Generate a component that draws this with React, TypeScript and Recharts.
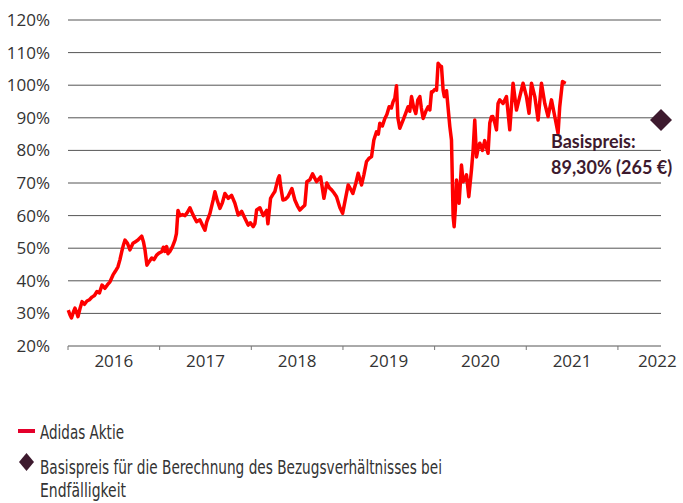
import { CartesianGrid, ComposedChart, Line, Scatter, XAxis, YAxis } from "recharts";

// Zeitachse in Dezimaljahren, Kurs in % des Basispreises
const zeit = [
  2016.003, 2016.022, 2016.038, 2016.06, 2016.076, 2016.098, 2016.109, 2016.131, 2016.153, 2016.18,
  2016.207, 2016.234, 2016.262, 2016.289, 2016.316, 2016.343, 2016.371, 2016.403, 2016.431, 2016.458,
  2016.491, 2016.518, 2016.545, 2016.567, 2016.586, 2016.605, 2016.622, 2016.649, 2016.676, 2016.709,
  2016.736, 2016.763, 2016.804, 2016.823, 2016.84, 2016.861, 2016.883, 2016.913, 2016.938, 2016.967,
  2016.992, 2017.022, 2017.041, 2017.058, 2017.076, 2017.091, 2017.112, 2017.14, 2017.167, 2017.183,
  2017.2, 2017.221, 2017.249, 2017.276, 2017.303, 2017.33, 2017.363, 2017.403, 2017.439, 2017.475,
  2017.494, 2017.513, 2017.549, 2017.584, 2017.603, 2017.63, 2017.658, 2017.685, 2017.712, 2017.748,
  2017.785, 2017.821, 2017.857, 2017.894, 2017.93, 2017.966, 2017.99, 2018.021, 2018.039, 2018.058,
  2018.094, 2018.13, 2018.167, 2018.181, 2018.21, 2018.236, 2018.257, 2018.293, 2018.306, 2018.323,
  2018.345, 2018.372, 2018.399, 2018.443, 2018.475, 2018.503, 2018.53, 2018.557, 2018.584, 2018.606,
  2018.639, 2018.668, 2018.712, 2018.756, 2018.792, 2018.824, 2018.852, 2018.876, 2018.901, 2018.93,
  2018.966, 2018.996, 2019.026, 2019.057, 2019.086, 2019.108, 2019.141, 2019.166, 2019.203, 2019.228,
  2019.257, 2019.282, 2019.312, 2019.337, 2019.366, 2019.386, 2019.402, 2019.43, 2019.457, 2019.479,
  2019.504, 2019.528, 2019.547, 2019.566, 2019.584, 2019.599, 2019.62, 2019.656, 2019.686, 2019.711,
  2019.729, 2019.748, 2019.773, 2019.795, 2019.817, 2019.839, 2019.855, 2019.875, 2019.904, 2019.929,
  2019.948, 2019.966, 2019.98, 2020.002, 2020.021, 2020.038, 2020.057, 2020.075, 2020.093, 2020.106,
  2020.13, 2020.166, 2020.184, 2020.202, 2020.213, 2020.226, 2020.239, 2020.253, 2020.267, 2020.293,
  2020.311, 2020.329, 2020.348, 2020.373, 2020.402, 2020.42, 2020.438, 2020.457, 2020.477, 2020.493,
  2020.522, 2020.547, 2020.583, 2020.602, 2020.62, 2020.635, 2020.656, 2020.675, 2020.692, 2020.711,
  2020.747, 2020.784, 2020.82, 2020.856, 2020.893, 2020.929, 2020.965, 2021.002, 2021.03, 2021.057,
  2021.093, 2021.129, 2021.166, 2021.202, 2021.238, 2021.275, 2021.311, 2021.347, 2021.365, 2021.395,
  2021.414, 2021.431,
];

const kurs = [
  31.0, 29.5, 28.6, 30.5, 31.6, 30.0, 29.0, 31.5, 33.6, 32.8,
  33.8, 34.2, 35.0, 35.5, 36.7, 36.3, 38.7, 37.7, 38.8, 39.7,
  41.8, 43.0, 44.3, 46.5, 48.9, 51.0, 52.5, 51.5, 49.5, 51.5,
  52.0, 52.5, 53.7, 52.0, 49.5, 44.8, 45.8, 47.0, 46.5, 47.9,
  48.5, 48.9, 50.3, 49.0, 50.5, 48.3, 49.0, 50.5, 52.5, 54.5,
  61.6, 60.0, 60.3, 60.0, 61.0, 62.4, 60.3, 58.1, 58.7, 56.6,
  55.5, 58.0, 60.7, 64.8, 67.3, 64.5, 62.2, 64.0, 66.8, 65.3,
  66.2, 63.8, 60.2, 61.3, 59.2, 57.1, 57.8, 56.6, 57.5, 61.7,
  62.4, 60.0, 61.6, 57.5, 65.3, 66.5, 67.4, 71.4, 72.2, 68.5,
  64.8, 65.0, 65.8, 68.3, 64.8, 63.0, 61.7, 62.5, 63.2, 70.4,
  71.0, 72.8, 70.4, 71.9, 65.3, 70.0, 68.5, 67.9, 67.0, 65.8,
  62.5, 60.7, 65.0, 69.4, 68.0, 66.8, 70.0, 73.0, 69.4, 72.5,
  76.6, 77.5, 78.1, 83.2, 85.7, 85.0, 88.3, 87.5, 89.8, 91.0,
  93.4, 93.0, 94.9, 96.0, 99.8, 90.0, 86.8, 89.3, 91.5, 93.4,
  92.0, 96.5, 93.0, 91.3, 95.5, 96.5, 93.0, 89.8, 92.0, 93.4,
  92.4, 98.0, 98.0, 98.7, 98.5, 106.7, 106.0, 105.7, 98.4, 96.5,
  98.3, 87.3, 83.2, 59.7, 56.6, 62.0, 70.9, 67.0, 63.8, 75.5,
  70.4, 71.0, 72.5, 65.8, 74.0, 80.1, 89.3, 78.0, 81.0, 82.2,
  80.0, 83.0, 79.1, 88.4, 90.3, 90.4, 88.5, 86.3, 94.4, 95.5,
  94.4, 96.5, 86.3, 100.6, 92.4, 96.5, 100.6, 96.5, 91.4, 100.6,
  96.5, 89.3, 100.6, 94.4, 90.4, 95.5, 90.4, 85.2, 93.4, 101.1,
  100.8, 100.6,
];

const basisZeit = [2022.47];
const basisWert = [89.3];
const yTicks = [20, 30, 40, 50, 60, 70, 80, 90, 100, 110, 120];
const jahre = [2016, 2017, 2018, 2019, 2020, 2021, 2022];

const xEnde = 2022.47;
const data = zeit.map((t, i) => ({ t, v: kurs[i] }));
const basis = basisZeit.map((t, i) => ({ t, v: basisWert[i] }));
// Tickmarken an Jahresgrenzen, Beschriftung jeweils in der Jahresmitte
const xTicks = [...jahre, ...jahre.map((j) => Math.min(j + 0.5, xEnde - 0.04))];

const axisFont = "'Open Sans', 'Noto Sans', sans-serif";
const legendFont = "'DejaVu Sans Condensed', 'Liberation Sans Narrow', sans-serif";

function JahrTick(props: any) {
  const { x, y, payload } = props;
  const v = payload.value as number;
  if (Number.isInteger(v)) {
    return <line x1={x} x2={x} y1={y} y2={y + 4} stroke="#777" strokeWidth={1} />;
  }
  return (
    <text x={x} y={y + 21} textAnchor="middle" fill="#333" fontSize={17} fontFamily={axisFont}>
      {Math.floor(v)}
    </text>
  );
}

function ProzentTick(props: any) {
  const { x, y, payload } = props;
  return (
    <text x={x} y={y} dy={6} textAnchor="end" fill="#333" fontSize={17} fontFamily={axisFont}>
      {payload.value}%
    </text>
  );
}

function BasisPunkt(props: any) {
  const { cx, cy } = props;
  const r = 11;
  return (
    <g>
      <path d={`M${cx},${cy - r} L${cx + r},${cy} L${cx},${cy + r} L${cx - r},${cy} Z`} fill="#3d1a2e" />
      <text x={cx - 110} y={cy + 28} fill="#3d1a2e" fontSize={18} fontWeight={700} fontFamily="Lato, sans-serif">
        Basispreis:
      </text>
      <text x={cx - 110} y={cy + 54} fill="#3d1a2e" fontSize={18} fontWeight={700} fontFamily="Lato, sans-serif">
        89,30% (265 €)
      </text>
    </g>
  );
}

export default function App() {
  return (
    <div style={{ position: "absolute", left: 0, top: 0, width: 683, height: 503, background: "#fff" }}>
      <ComposedChart width={683} height={380} data={data} margin={{ top: 20, right: 22, left: 0, bottom: 0 }}>
        <CartesianGrid vertical={false} stroke="#555" />
        <XAxis
          dataKey="t"
          type="number"
          domain={[2016, xEnde]}
          ticks={xTicks}
          interval={0}
          tick={<JahrTick />}
          tickLine={false}
          tickSize={0}
          tickMargin={0}
          axisLine={false}
          height={34}
        />
        <YAxis
          type="number"
          domain={[20, 120]}
          ticks={yTicks}
          interval={0}
          width={68}
          tick={<ProzentTick />}
          tickLine={false}
          tickSize={0}
          tickMargin={18}
          axisLine={false}
        />
        <Line
          dataKey="v"
          type="linear"
          stroke="#ff0000"
          strokeWidth={3.5}
          dot={false}
          strokeLinejoin="round"
          isAnimationActive={false}
        />
        <Scatter data={basis} dataKey="v" shape={<BasisPunkt />} isAnimationActive={false} />
      </ComposedChart>
      <svg width={683} height={123} style={{ position: "absolute", left: 0, top: 380 }}>
        <rect x={18} y={49} width={17} height={4} fill="#e4002b" />
        <text x={40} y={59} fill="#333" fontSize={20} fontFamily={legendFont} textLength={84} lengthAdjust="spacingAndGlyphs">
          Adidas Aktie
        </text>
        <path d="M26.5,73 L34,82 L26.5,91 L19,82 Z" fill="#3d1a2e" />
        <text x={40} y={94} fill="#333" fontSize={20} fontFamily={legendFont} textLength={402} lengthAdjust="spacingAndGlyphs">
          Basispreis für die Berechnung des Bezugsverhältnisses bei
        </text>
        <text x={40} y={117} fill="#333" fontSize={20} fontFamily={legendFont} textLength={86} lengthAdjust="spacingAndGlyphs">
          Endfälligkeit
        </text>
      </svg>
    </div>
  );
}
